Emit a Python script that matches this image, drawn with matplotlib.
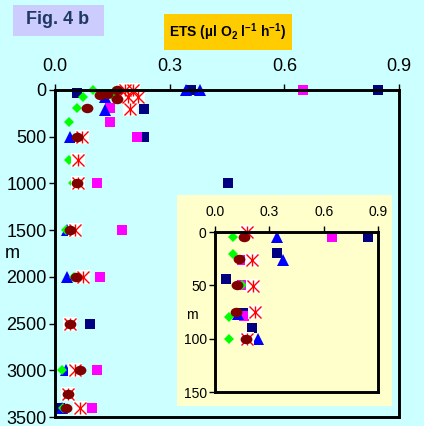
import numpy as np
import matplotlib
matplotlib.use('Agg')
from matplotlib import pyplot as plt
from matplotlib.path import Path
from matplotlib.patches import Rectangle

plt.rcParams['font.family'] = ['Liberation Sans', 'DejaVu Sans']
plt.rcParams['mathtext.fontset'] = 'custom'
plt.rcParams['mathtext.rm'] = 'Liberation Sans:bold'
plt.rcParams['mathtext.bf'] = 'Liberation Sans:bold'

# main panel: (depth m, ETS)
navy_d = [30, 0, 0, 200, 500, 1000, 2500, 3400]
navy_v = [0.058, 0.356, 0.845, 0.233, 0.233, 0.453, 0.092, 0.013]
mag_d = [0, 190, 340, 500, 1000, 1500, 2000, 3000, 3400]
mag_v = [0.649, 0.144, 0.144, 0.215, 0.110, 0.175, 0.118, 0.110, 0.097]
blue_d = [0, 0, 75, 210, 500, 1500, 2000, 3000, 3400]
blue_v = [0.342, 0.379, 0.131, 0.131, 0.039, 0.031, 0.031, 0.029, 0.018]
green_d = [0, 50, 75, 193, 342, 750, 1000, 1500, 2000, 3000, 3400]
green_v = [0.099, 0.150, 0.073, 0.058, 0.037, 0.037, 0.047, 0.030, 0.050, 0.018, 0.020]
star_d = [0, 0, 75, 75, 203, 500, 750, 1000, 1500, 2000, 2500, 3000, 3250, 3400]
star_v = [0.183, 0.205, 0.191, 0.217, 0.196, 0.071, 0.060, 0.060, 0.052, 0.073, 0.039, 0.052, 0.034, 0.065]
circ_d = [0, 50, 40, 100, 190, 500, 1000, 1500, 2000, 2500, 3000, 3250, 3400]
circ_v = [0.163, 0.118, 0.135, 0.163, 0.084, 0.058, 0.058, 0.039, 0.055, 0.039, 0.065, 0.034, 0.030]

# inset panel: upper 150 m
in_navy_d = [5, 20, 44, 76, 90]
in_navy_v = [0.845, 0.342, 0.061, 0.155, 0.204]
in_mag_d = [5, 26, 50, 79]
in_mag_v = [0.646, 0.150, 0.150, 0.160]
in_blue_d = [5, 26, 77, 100]
in_blue_v = [0.342, 0.375, 0.127, 0.237]
in_green_d = [5, 21, 50, 80, 100]
in_green_v = [0.100, 0.100, 0.150, 0.077, 0.077]
in_star_d = [0, 26, 51, 75, 100]
in_star_v = [0.176, 0.204, 0.210, 0.221, 0.176]
in_circ_d = [5, 25, 50, 75, 100]
in_circ_v = [0.160, 0.133, 0.120, 0.116, 0.171]

xticks = [0.0, 0.3, 0.6, 0.9]
yticks_main = [0, 500, 1000, 1500, 2000, 2500, 3000, 3500]
yticks_in = [0, 50, 100, 150]

cyan = '#CCFFFF'
yellow = '#FFFFCC'

# excel's round marker is a bit squashed
uc = Path.unit_circle()
ellipse = Path(uc.vertices * np.array([1.0, 0.8]), uc.codes)


def plot_points(ax, nd, nv, md, mv, bd, bv, gd, gv, sd, sv, cd, cv, s=1.0):
    kw = dict(linestyle='none', clip_on=False)
    ax.plot(nv, nd, marker='s', color='#000080', ms=7*s, mew=0, **kw)
    ax.plot(mv, md, marker='s', color='#FF00FF', ms=7*s, mew=0, **kw)
    ax.plot(bv, bd, marker='^', color='#0000FF', ms=8*s, mew=0, **kw)
    ax.plot(gv, gd, marker='D', color='#00FF00', ms=5.5*s, mew=0, **kw)
    # star marker: white box + x + vertical bar
    ax.plot(sv, sd, marker='s', color='white', ms=10*s, mew=0, **kw)
    ax.plot(sv, sd, marker='x', color='#FF0000', ms=8*s, mew=1.0, **kw)
    ax.plot(sv, sd, marker='|', color='#FF0000', ms=9*s, mew=1.0, **kw)
    ax.plot(cv, cd, marker=ellipse, color='#800000', ms=8.5*s, mew=0, **kw)


def style_axes(ax, yticks, fs, pad_x, pad_y, lw):
    ax.set_xlim(0, 0.9)
    ax.set_ylim(yticks[-1], 0)
    ax.xaxis.tick_top()
    ax.set_xticks(xticks)
    ax.set_xticklabels([f'{t:.1f}' for t in xticks])
    ax.set_yticks(yticks)
    ax.tick_params(axis='x', direction='out', length=4, width=1, pad=pad_x, labelsize=fs)
    ax.tick_params(axis='y', direction='out', length=4, width=1, pad=pad_y, labelsize=fs)
    for sp in ax.spines.values():
        sp.set_linewidth(lw)


fig = plt.figure(figsize=(4.24, 4.26), dpi=100)
fig.patch.set_facecolor(cyan)

ax = fig.add_axes([55/424, 1-417/426, 344/424, 327/426])
ax.set_facecolor(cyan)
plot_points(ax, navy_d, navy_v, mag_d, mag_v, blue_d, blue_v,
            green_d, green_v, star_d, star_v, circ_d, circ_v)
style_axes(ax, yticks_main, 13, 7, 2, 2.1)
fig.text(12/424, 1-254/426, 'm', fontsize=13, ha='center', va='center')

# inset chart area
fig.patches.append(Rectangle((177/424, 1-406/426), 215/424, 211/426,
                             transform=fig.transFigure, facecolor=yellow,
                             edgecolor='none', zorder=3))
ax2 = fig.add_axes([215/424, 1-392/426, 163/424, 160/426])
ax2.set_zorder(4)
ax2.set_facecolor(yellow)
plot_points(ax2, in_navy_d, in_navy_v, in_mag_d, in_mag_v, in_blue_d, in_blue_v,
            in_green_d, in_green_v, in_star_d, in_star_v, in_circ_d, in_circ_v)
style_axes(ax2, yticks_in, 10, 5, 2, 2.1)
fig.text(192/424, 1-315/426, 'm', fontsize=10, ha='center', va='center', zorder=5)

# title boxes
fig.patches.append(Rectangle((164/424, 1-50/426), 128/424, 36/426,
                             transform=fig.transFigure, facecolor='#FFCC00',
                             edgecolor='none'))
fig.text(228/424, 1-32/426, r'ETS (µl O$_2$ l$^{-1}$ h$^{-1}$)', fontsize=10,
         fontweight='bold', ha='center', va='center')
fig.patches.append(Rectangle((13/424, 1-36/426), 91/424, 31/426,
                             transform=fig.transFigure, facecolor='#CCCCFF',
                             edgecolor='none'))
fig.text(58/424, 1-20/426, 'Fig. 4 b', fontsize=13, fontweight='bold',
         color='#1F3864', ha='center', va='center')

plt.savefig('out.png', dpi=100, facecolor=cyan)
